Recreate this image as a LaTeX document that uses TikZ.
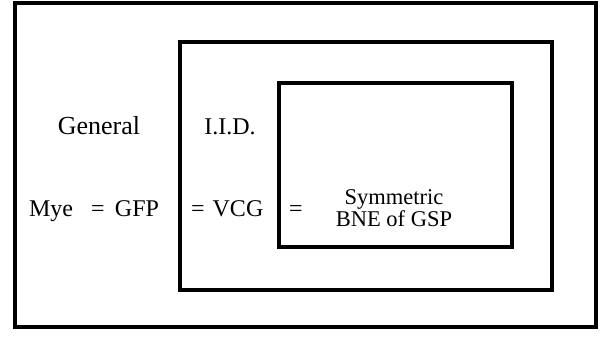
\documentclass[tikz,border=0pt]{standalone}
\usepackage{fontspec}
\setmainfont{Liberation Serif}
\begin{document}
\begin{tikzpicture}[x=1pt, y=-1pt, line join=miter,
    frame/.style={draw, line width=3.5pt},
    lbl/.style={inner sep=0pt, anchor=base, font=\fontsize{24}{26}\selectfont},
    small/.style={inner sep=0pt, align=center, font=\fontsize{22.5}{22}\selectfont}]
  \useasboundingbox (0,0) rectangle (602,337);
  % nested boxes
  \draw[frame] (15,3) rectangle (596,327);
  \draw[frame] (180,42) rectangle (552,290);
  \draw[frame] (279,83) rectangle (512,247);
  % top row
  \node[lbl, font=\fontsize{26}{28}\selectfont] (general) at (99,134) {General};
  \node[lbl] (iid) at (230,134) {I.I.D.};
  % bottom row
  \node[lbl] (mye) at (51,216) {Mye};
  \node[lbl] (eqa) at (98,216) {=};
  \node[lbl] (gfp) at (137,216) {GFP};
  \node[lbl] (eqb) at (198,216) {=};
  \node[lbl] (vcg) at (238,216) {VCG};
  \node[lbl] (eqc) at (296,216) {=};
  \node[small] (bne) at (394,208) {Symmetric\\BNE of GSP};
\end{tikzpicture}
\end{document}
